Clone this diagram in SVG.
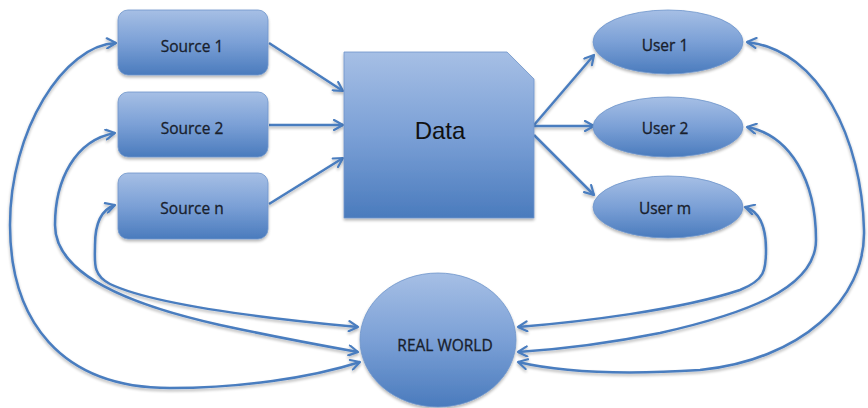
<svg xmlns="http://www.w3.org/2000/svg" width="868" height="408" viewBox="0 0 868 408">
  <defs>
    <linearGradient id="fillBlue" x1="0" y1="0" x2="0" y2="1">
      <stop offset="0" stop-color="#a6bfe5"/>
      <stop offset="0.5" stop-color="#7ba0d6"/>
      <stop offset="1" stop-color="#4a7bbd"/>
    </linearGradient>
    <filter id="shadow" x="-10%" y="-10%" width="120%" height="130%">
      <feGaussianBlur in="SourceAlpha" stdDeviation="1.6"/>
      <feOffset dx="0" dy="2" result="b"/>
      <feComponentTransfer><feFuncA type="linear" slope="0.3"/></feComponentTransfer>
      <feMerge><feMergeNode/><feMergeNode in="SourceGraphic"/></feMerge>
    </filter>
    <marker id="open" viewBox="0 0 12 12" refX="10.5" refY="6" markerWidth="12" markerHeight="12" markerUnits="userSpaceOnUse" orient="auto-start-reverse">
      <path d="M1.5,1 L10.5,6 L1.5,11" fill="none" stroke="#4a7dbf" stroke-width="2.2" stroke-linecap="round" stroke-linejoin="round"/>
    </marker>
  </defs>
  <style>
    .node { fill: url(#fillBlue); stroke: #6f95cc; stroke-width: 0.8; filter: url(#shadow); }
    .label { font-family: "Open Sans", "Liberation Sans", sans-serif; font-size: 15.5px; fill: #18202c; stroke: #18202c; stroke-width: 0.3; text-anchor: middle; }
    .big { font-family: "Liberation Sans", Arial, sans-serif; font-size: 24px; fill: #111111; text-anchor: middle; }
    .link { fill: none; stroke: #4a7dbf; stroke-width: 2.5; marker-end: url(#open); }
    .both { marker-start: url(#open); }
  </style>

  <rect width="868" height="408" fill="#ffffff"/>

  <!-- connectors -->
  <g id="connectors" filter="url(#shadow)">
    <!-- sources into data -->
    <path class="link" d="M269,43 L343,91"/>
    <path class="link" d="M269,125 L343,125"/>
    <path class="link" d="M269,204 L343,158"/>
    <!-- data out to users -->
    <path class="link" d="M534,125 L594,55"/>
    <path class="link" d="M534,126 L594,126"/>
    <path class="link" d="M534,135 L594,195"/>
    <!-- real world <-> sources -->
    <path class="link both" d="M116,43 C64,45 10,130 10,225 C10,320 60,388 170,388 C240,388 310,378 360,362"/>
    <path class="link both" d="M115,133 C75,140 55,180 55,225 C55,275 130,305 220,325 C280,338 330,347 358,352"/>
    <path class="link both" d="M115,205 C100,210 95,225 95,245 C95,262 92,275 110,284 C150,303 250,317 358,327"/>
    <!-- real world <-> users -->
    <path class="link both" d="M747,42 C820,50 862,140 864,230 C866,300 800,360 700,370 C620,375 560,372 518,362"/>
    <path class="link both" d="M747,127 C790,135 816,180 816,240 C816,290 740,315 660,333 C600,345 550,350 518,352"/>
    <path class="link both" d="M745,207 C762,212 766,230 766,250 C766,270 765,280 740,290 C680,310 580,322 518,327"/>
  </g>

  <!-- sources -->
  <g id="source-1">
    <rect class="node" x="118" y="10" width="150" height="65" rx="10"/>
    <text class="label" x="192" y="52">Source 1</text>
  </g>
  <g id="source-2">
    <rect class="node" x="118" y="92" width="150" height="65" rx="10"/>
    <text class="label" x="192" y="134">Source 2</text>
  </g>
  <g id="source-n">
    <rect class="node" x="118" y="173" width="150" height="66" rx="10"/>
    <text class="label" x="192" y="214">Source n</text>
  </g>

  <!-- data store -->
  <g id="data">
    <path class="node" d="M344,52 L507,52 L534,79 L534,218 L344,218 Z"/>
    <text class="big" x="440" y="139">Data</text>
  </g>

  <!-- users -->
  <g id="user-1">
    <ellipse class="node" cx="668" cy="42" rx="75" ry="32"/>
    <text class="label" x="665" y="51">User 1</text>
  </g>
  <g id="user-2">
    <ellipse class="node" cx="668" cy="127" rx="75" ry="30"/>
    <text class="label" x="665" y="134">User 2</text>
  </g>
  <g id="user-m">
    <ellipse class="node" cx="668" cy="207" rx="75" ry="31"/>
    <text class="label" x="665" y="214">User m</text>
  </g>

  <!-- real world -->
  <g id="real-world">
    <ellipse class="node" cx="438" cy="340" rx="78" ry="67"/>
    <text class="label" x="445" y="351">REAL WORLD</text>
  </g>
</svg>
